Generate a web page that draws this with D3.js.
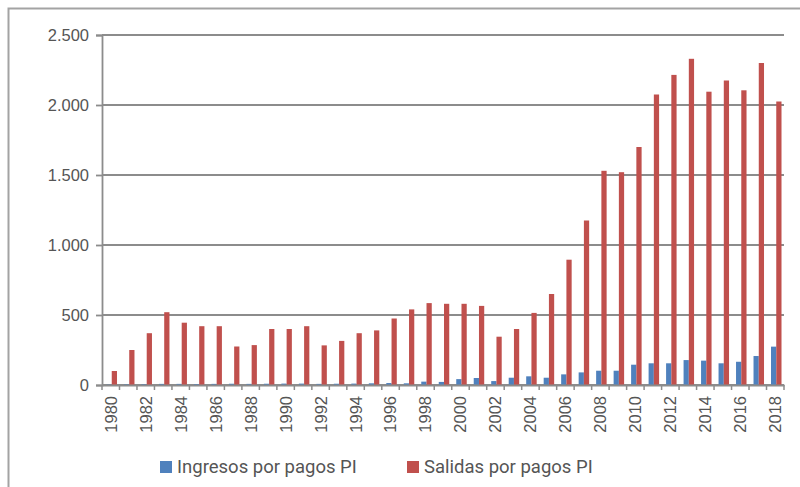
<!DOCTYPE html>
<html>
<head>
<meta charset="utf-8">
<script src="https://cdn.jsdelivr.net/npm/d3@7"></script>
<style>
  body { margin: 0; background: #fff; }
  svg { display: block; font-family: Roboto, "Noto Sans", sans-serif; }
  .axis text { fill: #555; font-size: 16.5px; }
  .axis path, .axis line { stroke: #8c8c8c; }
</style>
</head>
<body>
<div id="chart"></div>
<script>
const years = d3.range(1980, 2019).map(String);
const seriesNames = ["Ingresos por pagos PI", "Salidas por pagos PI"];
const colors = ["#4f81bd", "#c0504d"];
const yTicks = [0, 500, 1000, 1500, 2000, 2500];

// Ingresos por pagos PI
const ingresos = [3, 5, 6, 8, 8, 7, 8, 9, 8, 9, 10, 10, 8, 9, 10, 12, 14, 12, 24, 22,
  42, 50, 28, 52, 62, 52, 76, 90, 102, 102, 145, 155, 155, 178, 174, 155, 166, 207, 274];
// Salidas por pagos PI
const salidas = [100, 250, 370, 520, 445, 420, 420, 275, 285, 400, 400, 420, 283, 315, 370, 390,
  475, 540, 585, 580, 580, 565, 345, 400, 515, 650, 895, 1175, 1530, 1520, 1700, 2075, 2215,
  2330, 2095, 2175, 2105, 2300, 2025];

const width = 800, height = 487;
const plotLeft = 102, plotRight = 784, plotTop = 35, plotBottom = 385;

const svg = d3.select("#chart").append("svg")
  .attr("width", width)
  .attr("height", height);

// outer frame
svg.append("rect")
  .attr("x", 8.5).attr("y", 8.5)
  .attr("width", 820).attr("height", 520)
  .attr("fill", "none")
  .attr("stroke", "#a3a3a3")
  .attr("stroke-width", 2);

const pad = 0.4;
const x0 = d3.scaleBand()
  .domain(years)
  .range([plotLeft, plotRight])
  .paddingInner(pad)
  .paddingOuter(pad / 2);

const x1 = d3.scaleBand()
  .domain(seriesNames)
  .range([0, x0.bandwidth()]);

const y = d3.scaleLinear()
  .domain([0, 2500])
  .range([plotBottom, plotTop]);

const locale = d3.formatLocale({ decimal: ",", thousands: ".", grouping: [3], currency: ["", ""] });
const fmt = locale.format(",");

// gridlines
svg.append("g")
  .selectAll("line")
  .data(yTicks)
  .enter()
  .append("line")
  .attr("x1", plotLeft)
  .attr("x2", plotRight)
  .attr("y1", d => y(d))
  .attr("y2", d => y(d))
  .attr("stroke", "#8c8c8c")
  .attr("stroke-width", 1.8);

// y axis
const yAxis = svg.append("g")
  .attr("class", "axis")
  .attr("transform", "translate(" + plotLeft + ",0)")
  .call(d3.axisLeft(y).tickValues(yTicks).tickSize(6).tickPadding(7).tickFormat(fmt));
yAxis.selectAll("path, line").attr("stroke-width", 1.8);

// bars
const rows = years.map((yr, i) => ({ year: yr, values: [ingresos[i], salidas[i]] }));

svg.append("g")
  .selectAll("g")
  .data(rows)
  .enter()
  .append("g")
  .attr("transform", d => "translate(" + (x0(d.year) + 1) + ",0)")
  .selectAll("rect")
  .data(d => d.values.map((v, k) => ({ key: seriesNames[k], value: v, color: colors[k] })))
  .enter()
  .append("rect")
  .attr("x", d => x1(d.key))
  .attr("width", x1.bandwidth())
  .attr("y", d => y(d.value))
  .attr("height", d => y(0) - y(d.value))
  .attr("fill", d => d.color);

// x axis
const xAxis = svg.append("g")
  .attr("class", "axis")
  .attr("transform", "translate(0," + plotBottom + ")")
  .call(d3.axisBottom(x0).tickValues(years.filter((d, i) => i % 2 === 0)).tickSize(0));
xAxis.select(".domain").attr("stroke-width", 1.8);
xAxis.selectAll("text")
  .attr("transform", "rotate(-90)")
  .attr("x", -11)
  .attr("y", 0)
  .attr("dy", "0.36em")
  .style("text-anchor", "end");

// boundary ticks
const half = x0.step() * pad / 2;
xAxis.selectAll(".btick")
  .data(years.concat(["end"]))
  .enter()
  .append("line")
  .attr("class", "btick")
  .attr("x1", d => d === "end" ? plotRight : x0(d) - half)
  .attr("x2", d => d === "end" ? plotRight : x0(d) - half)
  .attr("y1", 0)
  .attr("y2", 5)
  .attr("stroke", "#8c8c8c")
  .attr("stroke-width", 1.5);

// legend
const legendX = [160, 407];
const legend = svg.append("g")
  .selectAll("g")
  .data(seriesNames)
  .enter()
  .append("g")
  .attr("transform", (d, i) => "translate(" + legendX[i] + ",461)");

legend.append("rect")
  .attr("width", 12)
  .attr("height", 12)
  .attr("fill", (d, i) => colors[i]);

legend.append("text")
  .attr("x", 17)
  .attr("y", 12)
  .attr("fill", "#555")
  .style("font-size", "18.5px")
  .text(d => d);
</script>
</body>
</html>
